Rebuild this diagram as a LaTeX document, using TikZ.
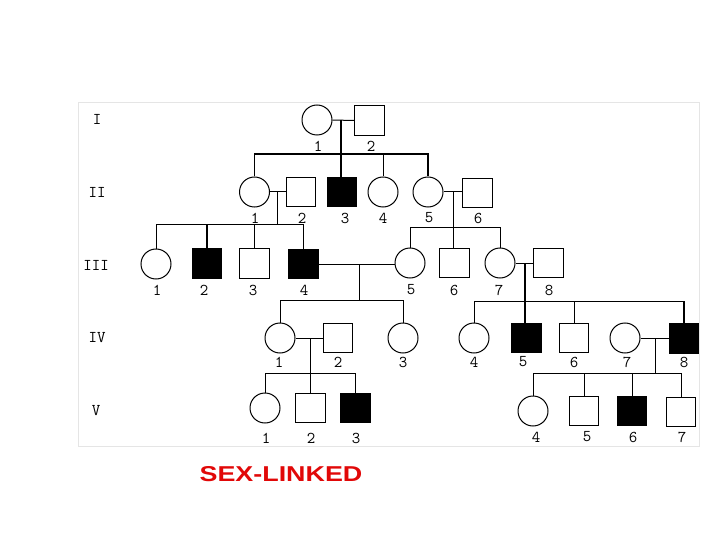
\documentclass[tikz,border=0pt]{standalone}
\usepackage{fontspec}
\setmainfont{Liberation Serif}
\newfontfamily\sansf{Liberation Sans}
\definecolor{titlered}{RGB}{225,8,8}
\begin{document}
\begin{tikzpicture}[x=1pt,y=-1pt,
  fem/.style={circle,draw,line width=1pt,minimum size=30pt,inner sep=0pt},
  mal/.style={rectangle,draw,line width=1pt,minimum size=29.5pt,inner sep=0pt},
  aff/.style={fill=black},
  num/.style={font=\ttfamily\fontsize{16.5}{16.5}\selectfont,inner sep=0pt},
  ln/.style={line width=1pt},
  thk/.style={line width=1.7pt}]
\useasboundingbox (0,0) rectangle (720,540);
\draw[black!10,line width=0.8pt] (78,102) rectangle (699,446);

% generation labels
\node[num] (gI)   at (97,119) {I};
\node[num] (gII)  at (97,192) {II};
\node[num] (gIII) at (96,265) {III};
\node[num] (gIV)  at (97,338) {IV};
\node[num] (gV)   at (96,411) {V};

% generation I
\node[fem] (i1) at (317,120) {};
\node[mal] (i2) at (369.5,120.5) {};
\node[num] (li1) at (318,146) {1};
\node[num] (li2) at (371,146) {2};

% generation II
\node[fem] (ii1) at (254.5,192) {};
\node[mal] (ii2) at (301,192) {};
\node[mal,aff] (ii3) at (342,192) {};
\node[fem] (ii4) at (383,192) {};
\node[fem] (ii5) at (428,192) {};
\node[mal] (ii6) at (477.5,193) {};
\node[num] (lii1) at (255,218) {1};
\node[num] (lii2) at (302,218) {2};
\node[num] (lii3) at (345,218) {3};
\node[num] (lii4) at (383,218) {4};
\node[num] (lii5) at (429,218) {5};
\node[num] (lii6) at (478,218) {6};

% generation III
\node[fem] (iii1) at (156,264) {};
\node[mal,aff] (iii2) at (207,263.5) {};
\node[mal] (iii3) at (254.5,263.5) {};
\node[mal,aff] (iii4) at (303.5,264) {};
\node[fem] (iii5) at (410,263) {};
\node[mal] (iii6) at (454.5,263) {};
\node[fem] (iii7) at (500,263) {};
\node[mal] (iii8) at (548.5,263) {};
\node[num] (liii1) at (157,290) {1};
\node[num] (liii2) at (204,290) {2};
\node[num] (liii3) at (253,290) {3};
\node[num] (liii4) at (304,290) {4};
\node[num] (liii5) at (411,290) {5};
\node[num] (liii6) at (454,290) {6};
\node[num] (liii7) at (499,290) {7};
\node[num] (liii8) at (549,290) {8};

% generation IV
\node[fem] (iv1) at (280,338) {};
\node[mal] (iv2) at (338,338) {};
\node[fem] (iv3) at (403,338) {};
\node[fem] (iv4) at (474,338) {};
\node[mal,aff] (iv5) at (526.5,338) {};
\node[mal] (iv6) at (574,338) {};
\node[fem] (iv7) at (625,338) {};
\node[mal,aff] (iv8) at (684,338.5) {};
\node[num] (liv1) at (279,362) {1};
\node[num] (liv2) at (338,362) {2};
\node[num] (liv3) at (403,362) {3};
\node[num] (liv4) at (474,362) {4};
\node[num] (liv5) at (523,362) {5};
\node[num] (liv6) at (574,362) {6};
\node[num] (liv7) at (627,362) {7};
\node[num] (liv8) at (684,362) {8};

% generation V
\node[fem] (v1) at (265,408) {};
\node[mal] (v2) at (310.5,408) {};
\node[mal,aff] (v3) at (355.5,408) {};
\node[fem] (v4) at (533,411) {};
\node[mal] (v5) at (584,411) {};
\node[mal,aff] (v6) at (632,411) {};
\node[mal] (v7) at (681,412) {};
\node[num] (lv1) at (266,438) {1};
\node[num] (lv2) at (311,438) {2};
\node[num] (lv3) at (356,438) {3};
\node[num] (lv4) at (536,437) {4};
\node[num] (lv5) at (587,437) {5};
\node[num] (lv6) at (633,437) {6};
\node[num] (lv7) at (682,437) {7};

% junction points
\coordinate (m1) at (341,120);
\coordinate (s1) at (341,154);
\coordinate (m2) at (277,192);
\coordinate (s2) at (277,225);
\coordinate (m3) at (453,192);
\coordinate (s3) at (453,228);
\coordinate (m4) at (359,264);
\coordinate (s4) at (359,300);
\coordinate (m5) at (525,263);
\coordinate (s5) at (525,301);
\coordinate (m6) at (310,338);
\coordinate (s6) at (310,373);
\coordinate (m7) at (655,338);
\coordinate (s7) at (655,373);

% I couple
\draw[ln] (i1) -- (i2);
\draw[line width=1.2pt] (m1) -- (m1|-ii3.north);
\draw[thk] (ii1.north) -- (ii1.north|-s1) -- (ii5.north|-s1) -- (ii5.north);
\draw[ln] (ii4.north) -- (ii4.north|-s1);

% II-1 x II-2
\draw[ln] (ii1) -- (ii2);
\draw[ln] (m2) -- (s2);
\draw[ln] (iii1.north) -- (iii1.north|-s2) -- (iii4.north|-s2) -- (iii4.north);
\draw[thk] (iii2.north) -- (iii2.north|-s2);
\draw[ln] (iii3.north) -- (iii3.north|-s2);

% II-5 x II-6
\draw[ln] (ii5) -- (ii6.west|-ii5);
\draw[ln] (m3) -- (m3|-iii6.north);
\draw[ln] (iii5.north) -- (iii5.north|-s3) -- (iii7.north|-s3) -- (iii7.north);

% III-4 x III-5
\draw[ln] (iii4.east|-m4) -- (iii5.west|-m4);
\draw[ln] (m4) -- (s4);
\draw[ln] (iv1.north) -- (iv1.north|-s4) -- (iv3.north|-s4) -- (iv3.north);

% III-7 x III-8
\draw[ln] (iii7) -- (iii8);
\draw[thk] (m5) -- (m5|-iv5.north);
\draw[ln] (iv4.north) -- (iv4.north|-s5) -- (iv8.north|-s5);
\draw[thk] (iv8.north|-s5) -- (iv8.north);
\draw[ln] (iv6.north) -- (iv6.north|-s5);

% IV-1 x IV-2
\draw[ln] (iv1) -- (iv2);
\draw[ln] (m6) -- (m6|-v2.north);
\draw[ln] (v1.north) -- (v1.north|-s6) -- (v3.north|-s6) -- (v3.north);

% IV-7 x IV-8
\draw[ln] (iv7) -- (iv8.west|-iv7);
\draw[ln] (m7) -- (s7);
\draw[ln] (v4.north) -- (v4.north|-s7) -- (v7.north|-s7) -- (v7.north);
\draw[ln] (v5.north) -- (v5.north|-s7);
\draw[ln] (v6.north) -- (v6.north|-s7);

% title
\node[font=\sansf\bfseries\fontsize{21.5}{21.5}\selectfont,text=titlered,xscale=1.25,inner sep=0pt] (title) at (281,474.5) {SEX-LINKED};
\end{tikzpicture}
\end{document}
